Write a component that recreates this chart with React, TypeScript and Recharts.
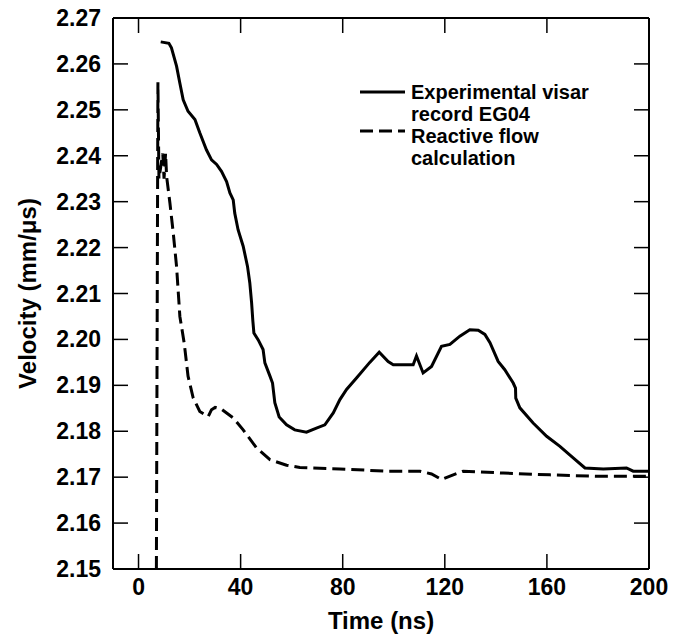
import React from 'react';
import { LineChart, Line, XAxis, YAxis, Legend } from 'recharts';

// Experimental visar record EG04
const expTime = [8.7, 11.9, 12.9, 14.9, 16.2, 17.5, 19.4, 22.1, 24.0, 26.6, 28.6, 30.6, 32.5, 34.5, 35.8, 37.1, 37.7, 39.0, 41.0, 42.7, 43.6, 44.3, 44.8, 45.2, 46.9, 48.8, 49.5, 51.5, 52.5, 53.4, 55.1, 58.0, 61.2, 65.8, 69.7, 73.0, 76.3, 78.9, 81.5, 85.4, 90.6, 94.3, 97.8, 99.8, 107.6, 108.9, 111.5, 114.8, 118.7, 122.0, 125.9, 129.8, 133.1, 135.7, 137.7, 140.9, 143.5, 146.8, 147.7, 147.8, 149.4, 154.6, 159.9, 165.1, 170.3, 174.9, 182.1, 191.2, 193.8, 200];
const expVel = [2.2648, 2.2645, 2.2635, 2.2595, 2.2558, 2.2522, 2.2497, 2.2479, 2.2450, 2.2413, 2.2391, 2.2381, 2.2366, 2.2344, 2.2319, 2.2304, 2.2275, 2.2239, 2.2203, 2.2159, 2.2123, 2.2080, 2.2040, 2.2014, 2.1999, 2.1978, 2.1949, 2.1920, 2.1905, 2.1862, 2.1831, 2.1814, 2.1803, 2.1798, 2.1807, 2.1814, 2.1840, 2.1869, 2.1891, 2.1916, 2.1950, 2.1972, 2.1952, 2.1945, 2.1945, 2.1964, 2.1927, 2.1941, 2.1985, 2.1989, 2.2007, 2.2021, 2.2020, 2.2011, 2.1993, 2.1952, 2.1934, 2.1905, 2.1894, 2.1872, 2.1851, 2.1818, 2.1789, 2.1767, 2.1742, 2.1720, 2.1718, 2.1720, 2.1713, 2.1713];

// Reactive flow calculation
const calcTime = [7.0, 7.6, 8.0, 9.5, 10.0, 10.6, 11.0, 12.3, 13.6, 14.9, 16.2, 17.9, 19.4, 21.4, 24.0, 27.3, 28.6, 30.0, 32.5, 37.1, 41.0, 46.2, 51.5, 58.0, 63.2, 78.9, 97.2, 110.2, 114.8, 118.7, 123.3, 127.2, 142.9, 161.2, 179.5, 200];
const calcVel = [2.1500, 2.2560, 2.2350, 2.2405, 2.2350, 2.2405, 2.2355, 2.2297, 2.2232, 2.2159, 2.2050, 2.1992, 2.1920, 2.1873, 2.1843, 2.1832, 2.1847, 2.1852, 2.1848, 2.1829, 2.1803, 2.1764, 2.1738, 2.1726, 2.1721, 2.1718, 2.1713, 2.1713, 2.1707, 2.1695, 2.1705, 2.1713, 2.1709, 2.1705, 2.1702, 2.1702];

const xTicks = [0, 40, 80, 120, 160, 200];
const yTicks = [2.15, 2.16, 2.17, 2.18, 2.19, 2.2, 2.21, 2.22, 2.23, 2.24, 2.25, 2.26, 2.27];

const seriesNames = ['Experimental visar record EG04', 'Reactive flow calculation'];

const expData = expTime.map((t, i) => ({ t, v: expVel[i] }));
const calcData = calcTime.map((t, i) => ({ t, v: calcVel[i] }));

const FONT = '"Liberation Sans", Arial, Helvetica, sans-serif';
const TICK_LEN = 15;

const BottomTick = (props: any) => {
  const { x, y, payload } = props;
  return (
    <g>
      <line x1={x} y1={y} x2={x} y2={y - TICK_LEN} stroke="#000" strokeWidth={1.5} />
      <text x={x} y={y + 26} textAnchor="middle" fontFamily={FONT} fontWeight="bold" fontSize={23} fill="#000">
        {payload.value}
      </text>
    </g>
  );
};

const TopTick = (props: any) => {
  const { x, y } = props;
  return <line x1={x} y1={y} x2={x} y2={y + TICK_LEN} stroke="#000" strokeWidth={1.5} />;
};

const LeftTick = (props: any) => {
  const { x, y, payload } = props;
  return (
    <g>
      <line x1={x} y1={y} x2={x + TICK_LEN} y2={y} stroke="#000" strokeWidth={1.5} />
      <text x={x - 12} y={y + 8} textAnchor="end" fontFamily={FONT} fontWeight="bold" fontSize={23} fill="#000">
        {Number(payload.value).toFixed(2)}
      </text>
    </g>
  );
};

const RightTick = (props: any) => {
  const { x, y } = props;
  return <line x1={x} y1={y} x2={x - TICK_LEN} y2={y} stroke="#000" strokeWidth={1.5} />;
};

const renderLegend = () => {
  const textStyle = { fontFamily: FONT, fontWeight: 'bold' as const, fontSize: 20, fill: '#000' };
  return (
    <svg width={250} height={95} style={{ display: 'block' }}>
      <line x1={0} y1={12} x2={45} y2={12} stroke="#000" strokeWidth={3} />
      <text x={51} y={19} {...textStyle}>Experimental visar</text>
      <text x={51} y={41} {...textStyle}>record EG04</text>
      <line x1={0} y1={51} x2={45} y2={51} stroke="#000" strokeWidth={3} strokeDasharray="13 6" />
      <text x={51} y={63} {...textStyle}>Reactive flow</text>
      <text x={51} y={85} {...textStyle}>calculation</text>
    </svg>
  );
};

export default function App() {
  return (
    <div style={{ width: 671, height: 638, marginTop: -8, background: '#fff' }}>
      <LineChart width={671} height={638} margin={{ top: 13, right: 20, bottom: 29, left: 5 }}>
        <XAxis
          xAxisId="b"
          dataKey="t"
          type="number"
          domain={[-10, 200]}
          allowDataOverflow
          ticks={xTicks}
          orientation="bottom"
          height={40}
          tickSize={0}
          tickMargin={0}
          tickLine={false}
          tick={<BottomTick />}
          axisLine={{ stroke: '#000', strokeWidth: 2 }}
          interval={0}
          label={{ value: 'Time (ns)', position: 'bottom', offset: 3, style: { fontFamily: FONT, fontWeight: 'bold', fontSize: 24, fill: '#000' } }}
        />
        <XAxis
          xAxisId="t"
          dataKey="t"
          type="number"
          domain={[-10, 200]}
          allowDataOverflow
          ticks={xTicks}
          orientation="top"
          height={5}
          tickSize={0}
          tickMargin={0}
          tickLine={false}
          tick={<TopTick />}
          axisLine={{ stroke: '#000', strokeWidth: 2 }}
          interval={0}
        />
        <YAxis
          yAxisId="l"
          type="number"
          domain={[2.15, 2.27]}
          allowDataOverflow
          ticks={yTicks}
          orientation="left"
          width={100}
          tickSize={0}
          tickMargin={0}
          tickLine={false}
          tick={<LeftTick />}
          axisLine={{ stroke: '#000', strokeWidth: 2 }}
          interval={0}
          label={{ value: 'Velocity (mm/\u03bcs)', angle: -90, position: 'insideLeft', offset: 14, style: { textAnchor: 'middle', fontFamily: FONT, fontWeight: 'bold', fontSize: 24, fill: '#000' } }}
        />
        <YAxis
          yAxisId="r"
          type="number"
          domain={[2.15, 2.27]}
          allowDataOverflow
          ticks={yTicks}
          orientation="right"
          width={10}
          tickSize={0}
          tickMargin={0}
          tickLine={false}
          tick={<RightTick />}
          axisLine={{ stroke: '#000', strokeWidth: 2 }}
          interval={0}
        />
        <Legend
          layout="vertical"
          align="center"
          verticalAlign="middle"
          content={renderLegend}
          wrapperStyle={{ left: 352, top: 80, width: 250, height: 95 }}
        />
        <Line
          xAxisId="b"
          yAxisId="l"
          data={expData}
          dataKey="v"
          name={seriesNames[0]}
          type="linear"
          stroke="#000"
          strokeWidth={3}
          dot={false}
          isAnimationActive={false}
        />
        <Line
          xAxisId="b"
          yAxisId="l"
          data={calcData}
          dataKey="v"
          name={seriesNames[1]}
          type="linear"
          stroke="#000"
          strokeWidth={3}
          strokeDasharray="13 6"
          dot={false}
          isAnimationActive={false}
        />
      </LineChart>
    </div>
  );
}
